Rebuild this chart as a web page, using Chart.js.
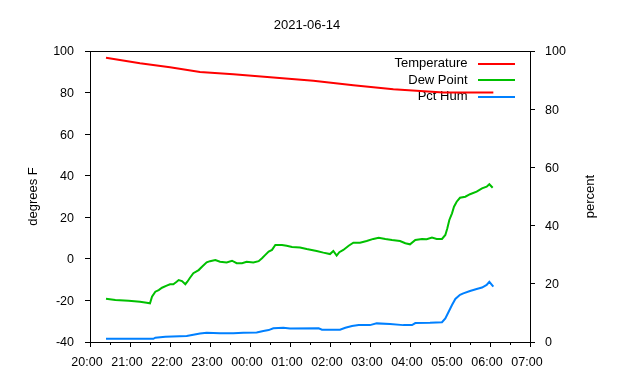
<!DOCTYPE html>
<html><head><meta charset="utf-8">
<script src="https://cdn.jsdelivr.net/npm/chart.js@4"></script>
<style>html,body{margin:0;padding:0;background:#fff}</style>
</head><body>
<canvas id="c" width="640" height="380"></canvas>
<script>
const chartTitle = "2021-06-14";
const leftAxisTitle = "degrees F";
const rightAxisTitle = "percent";
const seriesNames = ["Temperature", "Dew Point", "Pct Hum"];
const seriesColors = ["#ff0000", "#00c000", "#0080ff"];
const xTickLabels = ["20:00","21:00","22:00","23:00","00:00","01:00","02:00","03:00","04:00","05:00","06:00","07:00"];
const leftTicks = [-40, -20, 0, 20, 40, 60, 80, 100];
const rightTicks = [0, 20, 40, 60, 80, 100];

const tempTimes  = ["20:24","21:15","22:00","22:45","23:35","00:35","01:35","02:35","03:35","04:50","06:05"];
const tempValues = [96.8, 94.1, 92.2, 89.9, 88.8, 87.3, 85.7, 83.5, 81.6, 80.0, 80.0];

const dewTimes  = ["20:24","20:38","20:58","21:15","21:25","21:30","21:33","21:38","21:43","21:48","21:55","22:00","22:05","22:10","22:13","22:18","22:23","22:26","22:30","22:35","22:43","22:48","22:55","23:00","23:08","23:15","23:25","23:33","23:40","23:48","23:55","00:05","00:13","00:18","00:23","00:28","00:33","00:38","00:48","00:55","01:03","01:15","01:25","01:40","01:50","02:00","02:05","02:10","02:14","02:20","02:28","02:35","02:45","02:55","03:05","03:13","03:23","03:33","03:45","03:53","04:00","04:08","04:18","04:25","04:33","04:40","04:48","04:53","04:56","04:59","05:03","05:06","05:10","05:15","05:23","05:30","05:40","05:48","05:55","05:59","06:04"];
const dewValues = [-19.2,-19.8,-20.1,-20.6,-21.1,-21.4,-18.2,-15.8,-15.0,-13.9,-12.9,-12.2,-12.2,-11.0,-10.2,-10.7,-12.2,-11.0,-9.1,-6.9,-5.4,-3.8,-1.7,-1.1,-0.6,-1.4,-1.7,-0.9,-2.1,-2.1,-1.4,-1.7,-1.1,0.3,1.9,3.5,4.3,6.7,6.7,6.3,5.7,5.5,4.7,3.8,3.0,2.3,3.8,1.6,3.2,4.3,6.3,7.8,7.8,8.6,9.6,10.2,9.6,9.1,8.6,7.5,7.0,9.1,9.6,9.4,10.2,9.6,9.6,11.5,14.7,18.7,21.9,25.1,27.5,29.4,29.9,31.1,32.3,33.9,34.7,35.9,34.2];

const humTimes  = ["20:24","21:35","21:38","21:53","22:25","22:35","22:45","22:55","23:15","23:35","23:50","00:10","00:20","00:28","00:35","00:50","01:00","01:43","01:48","02:15","02:23","02:33","02:43","03:00","03:10","03:30","03:50","04:03","04:08","04:30","04:48","04:53","04:58","05:03","05:08","05:15","05:20","05:30","05:40","05:48","05:55","05:59","06:05"];
const humValues = [1.1,1.1,1.5,1.8,2.1,2.5,2.9,3.2,3.0,3.0,3.2,3.3,3.8,4.1,4.7,4.9,4.6,4.7,4.2,4.2,4.9,5.5,5.8,5.8,6.4,6.2,5.8,5.8,6.5,6.6,6.8,8.1,10.4,12.7,14.8,16.2,16.7,17.5,18.2,18.7,19.6,20.7,19.0];

const FONT = "'Liberation Sans', Arial, sans-serif";

function toHour(s) {
  const p = s.split(":").map(Number);
  let v = p[0] + p[1] / 60;
  if (v < 12) v += 24;
  return v;
}
function pts(times, vals) { return times.map((t, i) => ({ x: toHour(t), y: vals[i] })); }

const decorPlugin = {
  id: "decor",
  beforeDatasetsDraw(chart) {
    const ctx = chart.ctx, a = chart.chartArea;
    ctx.save();
    // top border
    ctx.strokeStyle = "#000"; ctx.lineWidth = 1;
    ctx.beginPath(); ctx.moveTo(a.left, Math.round(a.top) + 0.5); ctx.lineTo(a.right + 1, Math.round(a.top) + 0.5); ctx.stroke();
    // minor x ticks
    const xs = chart.scales.x;
    for (let h = 20.5; h < 31; h += 1) {
      const px = Math.round(xs.getPixelForValue(h)) + 0.5;
      ctx.beginPath(); ctx.moveTo(px, a.bottom); ctx.lineTo(px, a.bottom + 3); ctx.stroke();
    }
    // title and axis titles
    ctx.fillStyle = "#000";
    ctx.font = "13px " + FONT;
    ctx.textAlign = "center"; ctx.textBaseline = "middle";
    ctx.fillText(chartTitle, 307, 25.5);
    const midY = (a.top + a.bottom) / 2;
    ctx.save(); ctx.translate(33, midY); ctx.rotate(-Math.PI / 2); ctx.fillText(leftAxisTitle, 0, 0); ctx.restore();
    ctx.save(); ctx.translate(590, midY); ctx.rotate(-Math.PI / 2); ctx.fillText(rightAxisTitle, 0, 0); ctx.restore();
    // legend
    ctx.textAlign = "right";
    for (let i = 0; i < seriesNames.length; i++) {
      const y = 63.5 + i * 16.7;
      ctx.fillStyle = "#000";
      ctx.fillText(seriesNames[i], 467.5, y);
      ctx.strokeStyle = seriesColors[i]; ctx.lineWidth = 2;
      ctx.beginPath(); ctx.moveTo(478, Math.round(y)); ctx.lineTo(515, Math.round(y)); ctx.stroke();
    }
    ctx.restore();
  }
};

new Chart(document.getElementById("c"), {
  type: "line",
  data: {
    datasets: [
      { label: seriesNames[0], data: pts(tempTimes, tempValues), borderColor: seriesColors[0], yAxisID: "y" },
      { label: seriesNames[1], data: pts(dewTimes, dewValues), borderColor: seriesColors[1], yAxisID: "y" },
      { label: seriesNames[2], data: pts(humTimes, humValues), borderColor: seriesColors[2], yAxisID: "y2" }
    ]
  },
  options: {
    responsive: false,
    devicePixelRatio: 1,
    animation: false,
    parsing: false,
    elements: { point: { radius: 0 }, line: { borderWidth: 2, tension: 0, fill: false } },
    layout: { padding: { top: 51, left: 0, right: 0, bottom: 0 } },
    plugins: { legend: { display: false }, title: { display: false }, tooltip: { enabled: false } },
    scales: {
      x: {
        type: "linear", position: "bottom", min: 20, max: 31,
        grid: { drawOnChartArea: false, drawTicks: true, tickLength: 5, color: "#000" },
        border: { display: true, color: "#000", width: 1 },
        ticks: { stepSize: 1, autoSkip: false, maxRotation: 0, padding: 8, labelOffset: -3, color: "#000", font: { size: 12.5, family: FONT },
          callback: (v) => xTickLabels[Math.round(v - 20)] },
        afterFit: (s) => { s.height = 38; }
      },
      y: {
        type: "linear", position: "left", min: -40, max: 100,
        grid: { drawOnChartArea: false, drawTicks: true, tickLength: 5, color: "#000" },
        border: { display: true, color: "#000", width: 1 },
        afterBuildTicks: (s) => { s.ticks = leftTicks.map(v => ({ value: v })); },
        ticks: { padding: 11, labelOffset: 1, color: "#000", font: { size: 12.5, family: FONT } },
        afterFit: (s) => { s.width = 90; }
      },
      y2: {
        type: "linear", position: "right", min: 0, max: 100,
        grid: { drawOnChartArea: false, drawTicks: true, tickLength: 5, color: "#000" },
        border: { display: true, color: "#000", width: 1 },
        afterBuildTicks: (s) => { s.ticks = rightTicks.map(v => ({ value: v })); },
        ticks: { padding: 10, labelOffset: 1, color: "#000", font: { size: 12.5, family: FONT } },
        afterFit: (s) => { s.width = 110; }
      }
    }
  },
  plugins: [decorPlugin]
});
</script>
</body></html>
